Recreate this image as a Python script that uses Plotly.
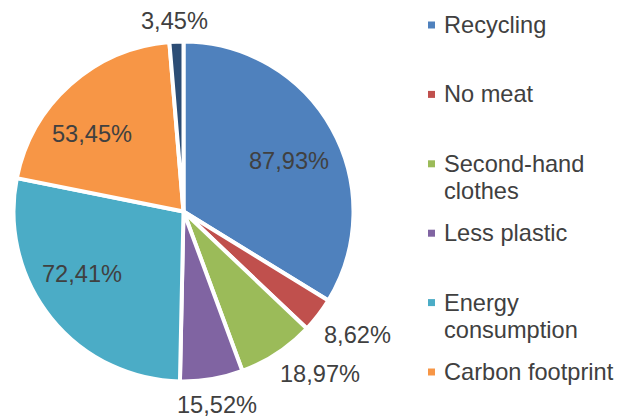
import math
import plotly.graph_objects as go

W, H = 617, 419

labels = ["Recycling", "No meat", "Second-hand clothes", "Less plastic",
          "Energy consumption", "Carbon footprint", "Other"]
values = [87.93, 8.62, 18.97, 15.52, 72.41, 53.45, 3.45]
colors = ["#4F81BD", "#C0504D", "#9BBB59", "#8064A2", "#4BACC6", "#F79646", "#2C4D75"]

# data-label placement relative to each slice: radius as a fraction of the
# pie radius, and a small turn (degrees) away from the slice's mid-angle
label_radius = [0.69, 1.256, 1.246, 1.155, 0.70, 0.705, 1.12]
label_turn = [3.8, -2.3, -6.7, -0.3, 7.3, -7.7, -0.2]

# legend lines as they wrap next to the pie
legend_lines = [["Recycling"], ["No meat"], ["Second-hand", "clothes"], ["Less plastic"],
                ["Energy", "consumption"], ["Carbon footprint"]]

FONT = "Liberation Sans, Arial, sans-serif"
FONT_SIZE = 23.6
TEXT_COLOR = "#404040"


def px_x(x):
    return x / W


def px_y(y):
    return 1 - y / H


cx, cy, r = 183.5, 211.5, 170

fig = go.Figure(go.Pie(
    labels=labels,
    values=values,
    sort=False,
    direction="clockwise",
    rotation=0,
    marker=dict(colors=colors, line=dict(color="white", width=4)),
    textinfo="none",
    domain=dict(x=[px_x(cx - r), px_x(cx + r)], y=[px_y(cy + r), px_y(cy - r)]),
    showlegend=False,
    hoverinfo="label+value",
))

annotations, shapes = [], []

# value labels, placed from each slice's mid-angle (clockwise from 12 o'clock)
total = sum(values)
cum = 0.0
for v, rf, turn in zip(values, label_radius, label_turn):
    mid = (cum + v / 2) / total * 360 + turn
    cum += v
    a = math.radians(mid)
    x = cx + rf * r * math.sin(a)
    y = cy - rf * r * math.cos(a)
    annotations.append(dict(text=f"{v:.2f}".replace(".", ",") + "%",
                            xref="paper", yref="paper", x=px_x(x), y=px_y(y),
                            xanchor="center", yanchor="middle", showarrow=False,
                            font=dict(family=FONT, size=FONT_SIZE, color=TEXT_COLOR)))

# hand-built legend: small square swatch plus label text
item_y0, item_step, line_step = 25, 69.4, 27
for i, lines in enumerate(legend_lines):
    yc = item_y0 + i * item_step
    shapes.append(dict(type="rect", xref="paper", yref="paper",
                       x0=px_x(428), x1=px_x(435), y0=px_y(yc + 3.5), y1=px_y(yc - 3.5),
                       fillcolor=colors[i], line=dict(width=0)))
    for k, line in enumerate(lines):
        annotations.append(dict(text=line, xref="paper", yref="paper",
                                x=px_x(442), y=px_y(yc + k * line_step),
                                xanchor="left", yanchor="middle", showarrow=False,
                                font=dict(family=FONT, size=FONT_SIZE, color=TEXT_COLOR)))

fig.update_layout(
    width=W, height=H,
    margin=dict(l=0, r=0, t=0, b=0),
    paper_bgcolor="white",
    plot_bgcolor="white",
    shapes=shapes,
    annotations=annotations,
)

fig.write_html("out.html")
